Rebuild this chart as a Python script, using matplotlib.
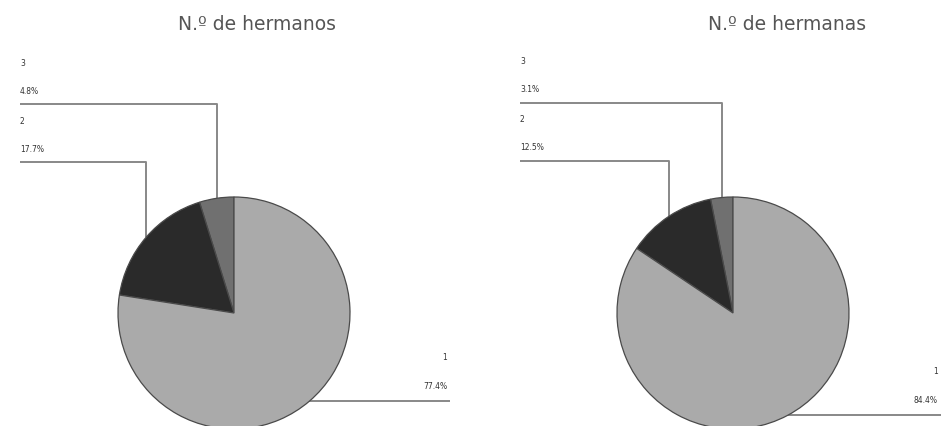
import numpy as np
import matplotlib.pyplot as plt

# Sibling counts (share of respondents, %)
categories = ["3", "2", "1"]
hermanos = [4.8, 17.7, 77.4]
hermanas = [3.1, 12.5, 84.4]
titles = ["N.º de hermanos", "N.º de hermanas"]

colors = ["#707070", "#2a2a2a", "#aaaaaa"]
W, H = 941, 426


def Y(py):
    """Convert a pixel row (top-down) to data y (bottom-up)."""
    return H - py


fig = plt.figure(figsize=(W / 100, H / 100), dpi=100)
ax = fig.add_axes([0, 0, 1, 1])

# per panel: pie centre x, title x, label column x, leader levels for slices 3 and 2, right end for slice 1
panels = [
    dict(data=hermanos, cx=234, tx=257, lx=20, levels=[104, 162], rx=450, title=titles[0]),
    dict(data=hermanas, cx=733, tx=787, lx=520, levels=[103, 161], rx=941, title=titles[1]),
]
cy, R = 313, 116
line_kw = dict(color="#888888", lw=1.4, solid_capstyle="butt", zorder=0)
txt_kw = dict(fontsize=5.5, color="#333333")

for p in panels:
    wedges, _ = ax.pie(p["data"], colors=colors, startangle=90, counterclock=True,
                       center=(p["cx"], Y(cy)), radius=R, frame=True,
                       wedgeprops=dict(edgecolor="#4a4a4a", linewidth=0.9))
    ax.text(p["tx"], Y(25), p["title"], ha="center", va="center", fontsize=13.5, color="#555555")

    for i, (w, cat, val) in enumerate(zip(wedges, categories, p["data"])):
        mid = np.deg2rad((w.theta1 + w.theta2) / 2)
        ax_x = p["cx"] + R * np.cos(mid)
        ax_y = Y(cy) + R * np.sin(mid)
        pct = "{:.1f}%".format(val)
        if i < 2:
            lev = Y(p["levels"][i])
            ax.plot([ax_x, ax_x, p["lx"]], [ax_y, lev, lev], **line_kw)
            ax.text(p["lx"], lev + 41, cat, ha="left", va="center", **txt_kw)
            ax.text(p["lx"], lev + 13, pct, ha="left", va="center", **txt_kw)
        else:
            ax.plot([ax_x, p["rx"]], [ax_y, ax_y], **line_kw)
            ax.text(p["rx"] - 3, ax_y + 44, cat, ha="right", va="center", **txt_kw)
            ax.text(p["rx"] - 3, ax_y + 15, pct, ha="right", va="center", **txt_kw)

ax.set_xlim(0, W)
ax.set_ylim(0, H)
ax.axis("off")
fig.savefig("out.png", dpi=100)
